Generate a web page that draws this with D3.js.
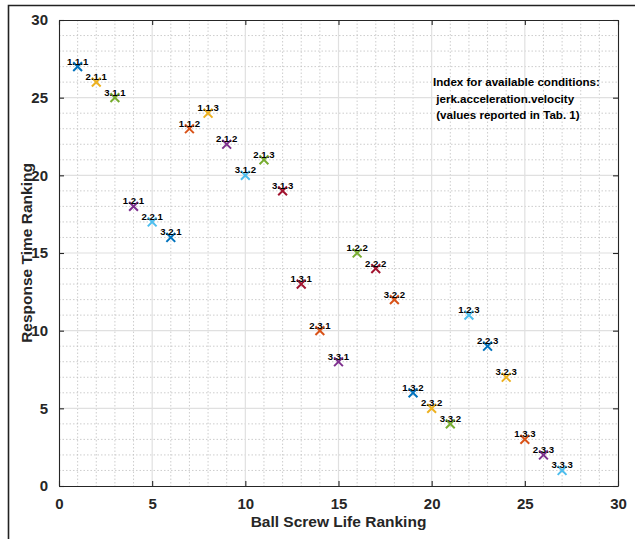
<!DOCTYPE html>
<html>
<head>
<meta charset="utf-8">
<script src="https://cdn.jsdelivr.net/npm/d3@7"></script>
<style>
  body { margin: 0; background: #fff; }
  svg { display: block; font-family: "Liberation Sans", Arial, sans-serif; }
</style>
</head>
<body>
<svg id="chart" width="635" height="539"></svg>
<script>
// condition index (jerk.acceleration.velocity), life ranking, response time ranking
const labels = ["1.1.1", "2.1.1", "3.1.1", "1.2.1", "2.2.1", "3.2.1", "1.1.2", "1.1.3", "2.1.2",
  "3.1.2", "2.1.3", "3.1.3", "1.3.1", "2.3.1", "3.3.1", "1.2.2", "2.2.2", "3.2.2",
  "1.3.2", "2.3.2", "3.3.2", "1.2.3", "2.2.3", "3.2.3", "1.3.3", "2.3.3", "3.3.3"];
const lifeRank = [1, 2, 3, 4, 5, 6, 7, 8, 9, 10, 11, 12, 13, 14, 15, 16, 17, 18, 19, 20, 21, 22, 23, 24, 25, 26, 27];
const timeRank = [27, 26, 25, 18, 17, 16, 23, 24, 22, 20, 21, 19, 13, 10, 8, 15, 14, 12, 6, 5, 4, 11, 9, 7, 3, 2, 1];
const tickValues = [0, 5, 10, 15, 20, 25, 30];
const noteLines = ["Index for available conditions:", " jerk.acceleration.velocity", " (values reported in Tab. 1)"];

const matlabColors = ["#0072BD", "#D95319", "#EDB120", "#7E2F8E", "#77AC30", "#4DBEEE", "#A2142F"];

const svg = d3.select("#chart");
const box = { left: 59, right: 618, top: 20, bottom: 486 };

const x = d3.scaleLinear().domain([0, 30]).range([box.left, box.right]);
const y = d3.scaleLinear().domain([0, 30]).range([box.bottom, box.top]);

// points are coloured in the order they were plotted (sorted by label)
const color = d3.scaleOrdinal()
  .domain(labels.slice().sort())
  .range(matlabColors);

const data = labels.map((d, i) => ({ label: d, x: lifeRank[i], y: timeRank[i] }));

// figure frame (only top and left edges visible)
svg.append("path")
  .attr("d", `M8.5,539 V5.5 H635`)
  .attr("fill", "none")
  .attr("stroke", "#222")
  .attr("stroke-width", 1.6);

// minor grid
const minor = d3.range(1, 30).filter(v => v % 5 !== 0);
const grid = svg.append("g");
grid.selectAll(".vminor").data(minor).enter().append("line")
  .attr("x1", d => x(d)).attr("x2", d => x(d))
  .attr("y1", box.top).attr("y2", box.bottom)
  .attr("stroke", "#c0c0c0").attr("stroke-width", 0.8)
  .attr("stroke-dasharray", "1.5,2");
grid.selectAll(".hminor").data(minor).enter().append("line")
  .attr("x1", box.left).attr("x2", box.right)
  .attr("y1", d => y(d)).attr("y2", d => y(d))
  .attr("stroke", "#c0c0c0").attr("stroke-width", 0.8)
  .attr("stroke-dasharray", "1.5,2");

// major grid
const major = tickValues.slice(1, -1);
grid.selectAll(".vmajor").data(major).enter().append("line")
  .attr("x1", d => x(d)).attr("x2", d => x(d))
  .attr("y1", box.top).attr("y2", box.bottom)
  .attr("stroke", "#e0e0e0").attr("stroke-width", 1.2);
grid.selectAll(".hmajor").data(major).enter().append("line")
  .attr("x1", box.left).attr("x2", box.right)
  .attr("y1", d => y(d)).attr("y2", d => y(d))
  .attr("stroke", "#e0e0e0").attr("stroke-width", 1.2);

// axes (ticks point inward, box on)
const tickFont = "bold 15px 'Liberation Sans', Arial, sans-serif";
function styleAxis(g) {
  g.select(".domain").attr("stroke", "#262626").attr("stroke-width", 1.1);
  g.selectAll(".tick line").attr("stroke", "#262626").attr("stroke-width", 1.1);
  g.selectAll(".tick text").style("font", tickFont).attr("fill", "#262626");
}

svg.append("g")
  .attr("transform", `translate(0,${box.bottom})`)
  .call(d3.axisBottom(x).tickValues(tickValues).tickSizeInner(-5).tickSizeOuter(0).tickPadding(12))
  .call(styleAxis);
svg.append("g")
  .attr("transform", `translate(${box.left},0)`)
  .call(d3.axisLeft(y).tickValues(tickValues).tickSizeInner(-5).tickSizeOuter(0).tickPadding(11))
  .call(styleAxis);
svg.append("g")
  .attr("transform", `translate(0,${box.top})`)
  .call(d3.axisTop(x).tickValues(tickValues).tickSizeInner(-5).tickSizeOuter(0).tickFormat(""))
  .call(styleAxis);
svg.append("g")
  .attr("transform", `translate(${box.right},0)`)
  .call(d3.axisRight(y).tickValues(tickValues).tickSizeInner(-5).tickSizeOuter(0).tickFormat(""))
  .call(styleAxis);

// markers
const r = 4.4;
const pts = svg.append("g").selectAll("g.pt").data(data).enter().append("g")
  .attr("class", "pt")
  .attr("transform", d => `translate(${x(d.x)},${y(d.y)})`);
pts.append("path")
  .attr("d", `M${-r},${-r}L${r},${r}M${-r},${r}L${r},${-r}`)
  .attr("stroke", d => color(d.label))
  .attr("stroke-width", 2)
  .attr("fill", "none");
pts.append("text")
  .attr("x", 0)
  .attr("y", -2)
  .attr("text-anchor", "middle")
  .style("font", "bold 9.6px 'Liberation Sans', Arial, sans-serif")
  .attr("fill", "#000")
  .text(d => d.label);

// annotation
svg.append("text")
  .attr("x", 433)
  .attr("y", 86)
  .style("font", "bold 11.6px 'Liberation Sans', Arial, sans-serif")
  .style("white-space", "pre")
  .attr("fill", "#000")
  .selectAll("tspan").data(noteLines).enter().append("tspan")
  .attr("x", 433)
  .attr("dy", (d, i) => i === 0 ? 0 : 16.5)
  .text(d => d);

// axis titles
svg.append("text")
  .attr("x", (box.left + box.right) / 2)
  .attr("y", 527)
  .attr("text-anchor", "middle")
  .style("font", "bold 15.5px 'Liberation Sans', Arial, sans-serif")
  .attr("fill", "#262626")
  .text("Ball Screw Life Ranking");
svg.append("text")
  .attr("transform", `translate(32,${(box.top + box.bottom) / 2}) rotate(-90)`)
  .attr("text-anchor", "middle")
  .style("font", "bold 15.5px 'Liberation Sans', Arial, sans-serif")
  .attr("fill", "#262626")
  .text("Response Time Ranking");
</script>
</body>
</html>
